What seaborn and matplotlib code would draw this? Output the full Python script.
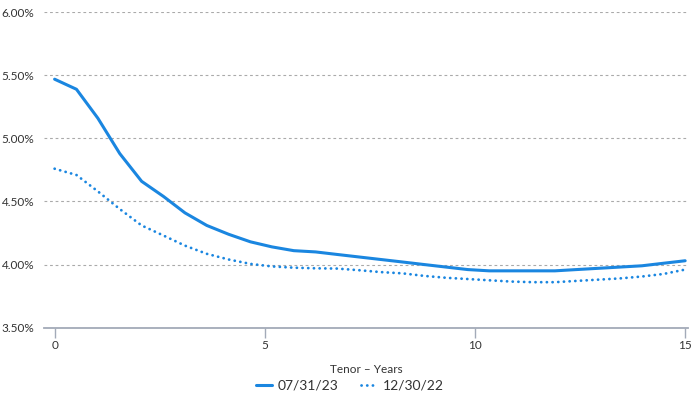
#!/usr/bin/env python3
"""
Yield curve comparison: 07/31/23 vs 12/30/22, tenor in years.
"""
import matplotlib
matplotlib.use('Agg')
import matplotlib.pyplot as plt
import matplotlib.ticker as mticker
import pandas as pd
import seaborn as sns

TENORS = [0.0, 0.52, 1.03, 1.55, 2.07, 2.59, 3.10, 3.62, 4.14, 4.66,
          5.17, 5.69, 6.21, 6.72, 7.24, 7.76, 8.28, 8.79, 9.31, 9.83,
          10.34, 10.86, 11.38, 11.90, 12.41, 12.93, 13.45, 13.97, 14.48, 15.0]
CURVE_JUL23 = [5.47, 5.39, 5.16, 4.88, 4.66, 4.54, 4.41, 4.31, 4.24, 4.18,
               4.14, 4.11, 4.10, 4.08, 4.06, 4.04, 4.02, 4.00, 3.98, 3.96,
               3.95, 3.95, 3.95, 3.95, 3.96, 3.97, 3.98, 3.99, 4.01, 4.03]
CURVE_DEC22 = [4.76, 4.71, 4.58, 4.44, 4.31, 4.23, 4.15, 4.085, 4.04, 4.005,
               3.985, 3.975, 3.97, 3.968, 3.955, 3.94, 3.93, 3.91, 3.895, 3.885,
               3.875, 3.865, 3.86, 3.86, 3.87, 3.88, 3.89, 3.905, 3.925, 3.96]
LABELS = ['07/31/23', '12/30/22']
Y_TICKS = [3.5, 4.0, 4.5, 5.0, 5.5, 6.0]
X_TICKS = [0, 5, 10, 15]

BLUE = '#1a86e0'
TEXT = '#333333'
AXIS_GREY = '#a3aab8'

df = pd.DataFrame({
    'tenor': TENORS * 2,
    'yield': CURVE_JUL23 + CURVE_DEC22,
    'date': [LABELS[0]] * len(TENORS) + [LABELS[1]] * len(TENORS),
})

sns.set_style('white')
plt.rcParams['font.family'] = ['Lato', 'DejaVu Sans']

fig = plt.figure(figsize=(7, 3.99), dpi=100)
ax = fig.add_axes([0.063, 0.179, 0.92, 0.790])

sns.lineplot(data=df[df['date'] == LABELS[0]], x='tenor', y='yield',
             color=BLUE, linewidth=2.2, ax=ax, label=LABELS[0])
sns.lineplot(data=df[df['date'] == LABELS[1]], x='tenor', y='yield',
             color=BLUE, linewidth=2.0, ax=ax, label=LABELS[1])

# dotted style for the older curve: tiny dashes with round caps -> dots
dotted = ax.lines[1]
dotted.set_linestyle((0, (0.05, 2.0)))
dotted.set_dash_capstyle('round')

ax.set_xlim(-0.25, 15.07)
ax.set_ylim(3.5, 6.0)
ax.set_xticks(X_TICKS)
ax.set_yticks(Y_TICKS)
ax.yaxis.set_major_formatter(mticker.FuncFormatter(lambda v, p: f'{v:.2f}%'))

# dashed horizontal grid, no vertical grid
ax.grid(axis='y', color='#aaaaaa', linestyle=(0, (2.5, 2.5)), linewidth=0.8)
ax.grid(axis='x', visible=False)
ax.set_axisbelow(True)

for side in ['top', 'right', 'left']:
    ax.spines[side].set_visible(False)
ax.spines['bottom'].set_color(AXIS_GREY)
ax.spines['bottom'].set_linewidth(1.3)

ax.tick_params(axis='x', length=7, width=1, color=AXIS_GREY, pad=2,
               labelsize=8.5, labelcolor=TEXT, direction='out', bottom=True)
ax.tick_params(axis='y', length=0, pad=7, labelsize=8.5, labelcolor=TEXT)

ax.set_xlabel('Tenor – Years', fontsize=8.5, color=TEXT, labelpad=9)
ax.set_ylabel('')

ax.get_legend().remove()
handles, labels = ax.get_legend_handles_labels()
fig.legend(handles, labels, loc='center', bbox_to_anchor=(0.5, 1 - 386 / 399),
           ncol=2, frameon=False, fontsize=10, handlelength=1.2,
           handletextpad=0.4, columnspacing=1.6, labelcolor=TEXT)

fig.savefig('out.png', dpi=100)
